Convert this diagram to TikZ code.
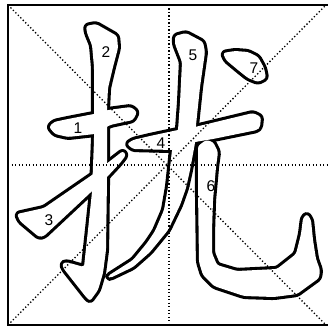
\documentclass[tikz,border=0pt]{standalone}
\usepackage{fontspec}
\setmainfont{Liberation Sans}

% stroke outlines of the character, in pixel units
\newcommand\hengA{(49,127) -- (54,122) -- (68,119) -- (94,114) -- (108,110) -- (131,107)
  -- (137,112) -- (133,120) -- (110,125) -- (95,134) -- (68,137) -- (55,134) -- cycle}
\newcommand\shuGou{(86,26) -- (96,24) -- (117,36) -- (118,48) -- (113,67) -- (108,88)
  -- (107,108) -- (107,178) -- (106,250) -- (103,273) -- (98,290) -- (90,301)
  -- (86,297) -- (64,269) -- (62,264) -- (66,262) -- (84,267) -- (88,230) -- (92,192)
  -- (94,140) -- (94,67) -- (92,45) -- (87,33) -- cycle}
\newcommand\tiStroke{(17,214) -- (44,208) -- (92,175) -- (123,151) -- (126,155)
  -- (120,163) -- (107,177) -- (90,193) -- (44,236) -- (39,237) -- (20,221) -- cycle}
\newcommand\hengB{(127,144) -- (133,140) -- (150,136) -- (178,130) -- (195,127)
  -- (253,113) -- (261,117) -- (260,127) -- (257,130) -- (213,139) -- (195,142)
  -- (173,150) -- (133,149) -- cycle}
\newcommand\pieStroke{(175,36) -- (186,33) -- (203,42) -- (205,52) -- (200,87)
  -- (196,125) -- (195,143) -- (190,170) -- (186,188) -- (180,205) -- (168,230)
  -- (150,252) -- (133,267) -- (110,278) -- (108,276) -- (133,260) -- (147,243)
  -- (155,231) -- (164,210) -- (168,187) -- (172,150) -- (178,130) -- (180,103)
  -- (182,62) -- (175,44) -- cycle}
\newcommand\wanGou{(198,146) -- (206,140) -- (213,142) -- (218,152) -- (216,167)
  -- (213,200) -- (212,231) -- (212,253) -- (217,265) -- (237,271) -- (277,269)
  -- (296,254) -- (301,234) -- (303,218) -- (307,214) -- (311,220) -- (313,240)
  -- (316,259) -- (320,270) -- (319,278) -- (297,294) -- (274,297) -- (244,296)
  -- (214,286) -- (203,275) -- (199,262) -- (198,190) -- cycle}
\newcommand\dianStroke{(223,53) -- (235,51) -- (248,52) -- (258,57) -- (264,68)
  -- (266,78) -- (258,82) -- (248,78) -- (238,70) -- (226,60) -- cycle}

\begin{document}
\begin{tikzpicture}[
    x=1pt, y=-1pt,
    outline/.style={draw=black, line width=6.2pt, line join=round, rounded corners=2.5pt},
    blank/.style={fill=white, rounded corners=2.5pt},
    guide/.style={black, line width=1.3pt, dash pattern=on 1.3pt off 2.2pt},
    frame/.style={draw=black, line width=2.4pt},
    num/.style={font=\fontsize{15.5}{15.5}\selectfont, inner sep=0pt}
  ]
  \useasboundingbox (0,0) rectangle (327,328);

  % ========= thick outlines, then white inside: union of strokes =========
  \draw[outline] \hengA;
  \draw[outline] \shuGou;
  \draw[outline] \tiStroke;
  \draw[outline] \hengB;
  \draw[outline] \pieStroke;
  \draw[outline] \wanGou;
  \draw[outline] \dianStroke;

  \fill[blank] \hengA;
  \fill[blank] \shuGou;
  \fill[blank] \tiStroke;
  \fill[blank] \hengB;
  \fill[blank] \pieStroke;
  \fill[blank] \wanGou;
  \fill[blank] \dianStroke;

  % ========= guide grid =========
  \coordinate (tl) at (8,5);
  \coordinate (tr) at (326,5);
  \coordinate (bl) at (8,325);
  \coordinate (br) at (326,325);
  \coordinate (mt) at (169,5);
  \coordinate (mb) at (169,325);
  \coordinate (ml) at (8,165);
  \coordinate (mr) at (327,165);

  \draw[guide] (tl) -- (br);
  \draw[guide] (bl) -- (tr);
  \draw[guide] (mt) -- (mb);
  \draw[guide] (ml) -- (mr);

  \draw[frame] (tl) rectangle (329,325);

  % ========= stroke numbers =========
  \node[num] (n1) at (78,128) {1};
  \node[num] (n2) at (106,52) {2};
  \node[num] (n3) at (49,220) {3};
  \node[num] (n4) at (161,143) {4};
  \node[num] (n5) at (193,55) {5};
  \node[num] (n6) at (211,186) {6};
  \node[num] (n7) at (254,68) {7};

\end{tikzpicture}
\end{document}
